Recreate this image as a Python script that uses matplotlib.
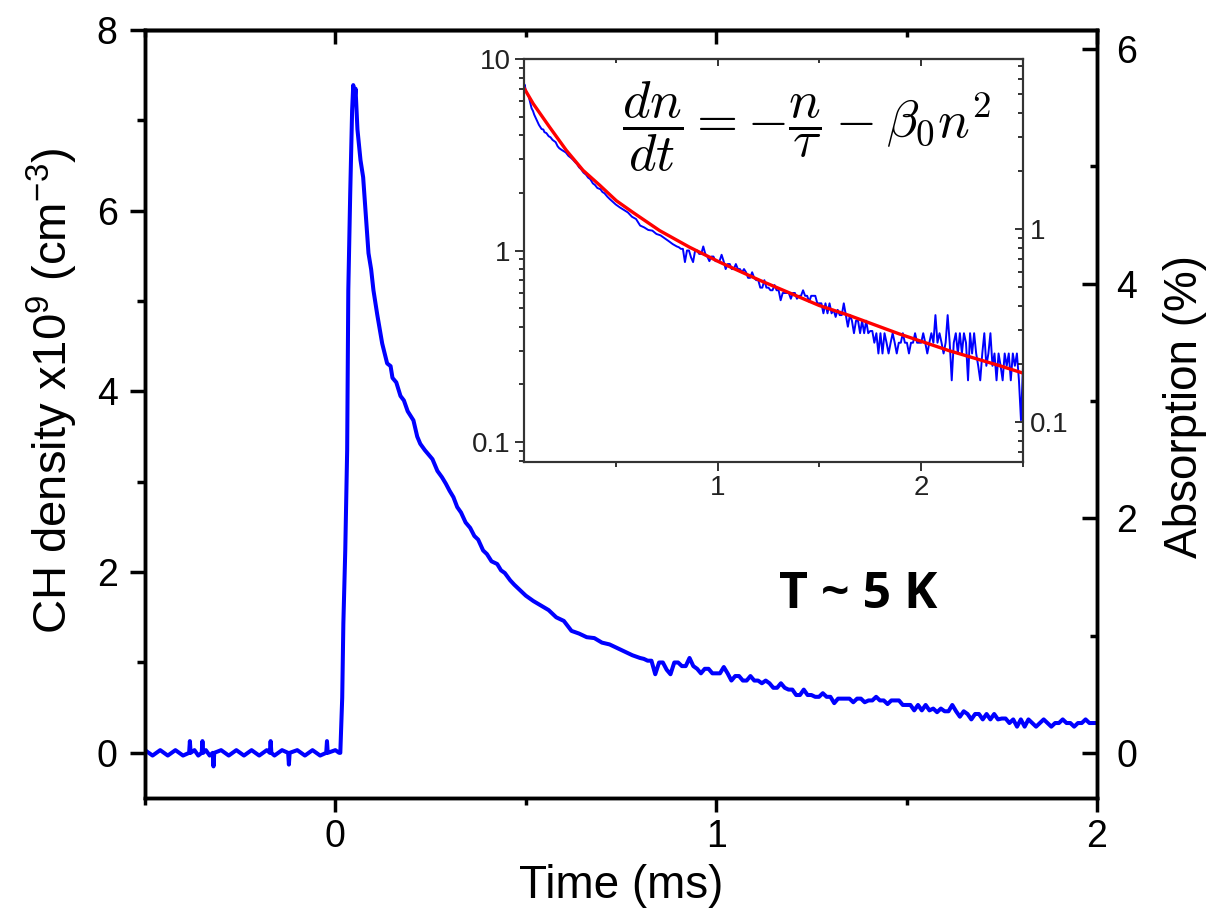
import numpy as np
import matplotlib.pyplot as plt
from matplotlib.ticker import MultipleLocator, LogLocator, NullFormatter, FixedLocator

plt.rcParams['font.family'] = ['Liberation Sans', 'DejaVu Sans']

# CH density trace (x1e9 cm^-3) vs time (ms)
t_base = [-0.50, -0.48, -0.46, -0.44, -0.42, -0.40, -0.384, -0.382, -0.380, -0.37, -0.36,
          -0.351, -0.349, -0.347, -0.34, -0.33, -0.322, -0.320, -0.318, -0.30, -0.28, -0.26,
          -0.24, -0.22, -0.20, -0.18, -0.172, -0.170, -0.168, -0.16, -0.14, -0.124, -0.122,
          -0.120, -0.10, -0.08, -0.06, -0.04, -0.024, -0.022, -0.020, 0.0, 0.010]
n_base = [0.03, -0.03, 0.03, -0.03, 0.03, -0.03, 0.0, 0.13, 0.0, 0.03, -0.03,
          0.0, 0.13, 0.0, 0.03, -0.03, 0.0, -0.15, 0.0, 0.03, -0.03, 0.03,
          -0.03, 0.03, -0.03, 0.03, 0.0, 0.13, 0.0, -0.03, 0.03, 0.0, -0.13,
          0.0, 0.03, -0.03, 0.03, -0.03, 0.0, 0.13, 0.0, 0.03, 0.0]

t_rise = [0.013, 0.018, 0.021, 0.026, 0.031, 0.034, 0.039, 0.044, 0.047]
n_rise = [0.0, 0.61, 1.43, 2.24, 3.35, 5.12, 6.19, 7.11, 7.39]

t_decay = [0.050, 0.053, 0.058, 0.066, 0.073, 0.080, 0.087, 0.094, 0.100, 0.110, 0.123,
           0.136, 0.145, 0.150, 0.160, 0.171, 0.180, 0.190, 0.205, 0.215, 0.223, 0.235,
           0.245, 0.255, 0.268, 0.280, 0.290, 0.300, 0.310, 0.320, 0.330, 0.342, 0.354,
           0.365, 0.375, 0.388, 0.398, 0.410, 0.425, 0.435, 0.445, 0.459, 0.470, 0.480, 0.490,
           0.50, 0.52, 0.54, 0.56, 0.58, 0.60, 0.62, 0.64, 0.66, 0.68, 0.70, 0.72, 0.74,
           0.76, 0.78]
n_decay = [7.20, 7.35, 6.90, 6.56, 6.37, 5.95, 5.53, 5.35, 5.12, 4.85, 4.53,
           4.31, 4.28, 4.15, 4.10, 3.95, 3.90, 3.78, 3.68, 3.50, 3.42, 3.35,
           3.30, 3.25, 3.12, 3.05, 2.98, 2.90, 2.83, 2.72, 2.66, 2.55, 2.49,
           2.40, 2.36, 2.24, 2.20, 2.12, 2.09, 2.02, 1.99, 1.91, 1.86, 1.82, 1.78,
           1.74, 1.68, 1.63, 1.58, 1.50, 1.46, 1.35, 1.32, 1.28, 1.27, 1.22, 1.20, 1.16,
           1.12, 1.08]

t_tail = [0.80, 0.81, 0.82, 0.83, 0.84, 0.85, 0.86, 0.87, 0.88, 0.89,
          0.90, 0.91, 0.92, 0.93, 0.94, 0.95, 0.96, 0.97, 0.98, 0.99,
          1.00, 1.01, 1.02, 1.03, 1.04, 1.05, 1.06, 1.07, 1.08, 1.09,
          1.10, 1.11, 1.12, 1.13, 1.14, 1.15, 1.16, 1.17, 1.18, 1.19,
          1.20, 1.21, 1.22, 1.23, 1.24, 1.25, 1.26, 1.27, 1.28, 1.29,
          1.30, 1.31, 1.32, 1.33, 1.34, 1.35, 1.36, 1.37, 1.38, 1.39,
          1.40, 1.41, 1.42, 1.43, 1.44, 1.45, 1.46, 1.47, 1.48, 1.49,
          1.50, 1.51, 1.52, 1.53, 1.54, 1.55, 1.56, 1.57, 1.58, 1.59,
          1.60, 1.61, 1.62, 1.63, 1.64, 1.65, 1.66, 1.67, 1.68, 1.69,
          1.70, 1.71, 1.72, 1.73, 1.74, 1.75, 1.76, 1.77, 1.78, 1.79,
          1.80, 1.81, 1.82, 1.83, 1.84, 1.85, 1.86, 1.87, 1.88, 1.89,
          1.90, 1.91, 1.92, 1.93, 1.94, 1.95, 1.96, 1.97, 1.98, 1.99,
          2.00, 2.01, 2.02, 2.03, 2.04, 2.05, 2.06, 2.07, 2.08, 2.09,
          2.10, 2.11, 2.12, 2.13, 2.14, 2.15, 2.16, 2.17, 2.18, 2.19,
          2.20, 2.21, 2.22, 2.23, 2.24, 2.25, 2.26, 2.27, 2.28, 2.29,
          2.30, 2.31, 2.32, 2.33, 2.34, 2.35, 2.36, 2.37, 2.38, 2.39,
          2.40, 2.41, 2.42, 2.43, 2.44, 2.45, 2.46, 2.47, 2.48, 2.49, 2.50]
n_tail = [1.05, 1.04, 1.02, 1.02, 0.87, 1.00, 1.00, 0.92, 0.87, 1.00,
          1.00, 0.96, 0.96, 1.05, 0.96, 0.93, 0.88, 0.93, 0.93, 0.88,
          0.88, 0.88, 0.95, 0.88, 0.80, 0.85, 0.85, 0.80, 0.80, 0.85,
          0.80, 0.80, 0.77, 0.80, 0.77, 0.72, 0.72, 0.77, 0.72, 0.70,
          0.70, 0.64, 0.64, 0.70, 0.64, 0.64, 0.62, 0.62, 0.66, 0.62,
          0.62, 0.55, 0.60, 0.60, 0.60, 0.60, 0.56, 0.60, 0.60, 0.56,
          0.58, 0.58, 0.62, 0.58, 0.58, 0.54, 0.58, 0.58, 0.58, 0.53,
          0.53, 0.53, 0.47, 0.53, 0.47, 0.53, 0.47, 0.49, 0.45, 0.49,
          0.46, 0.46, 0.53, 0.46, 0.40, 0.46, 0.43, 0.37, 0.43, 0.43,
          0.37, 0.43, 0.37, 0.43, 0.37, 0.38, 0.38, 0.33, 0.37, 0.29,
          0.37, 0.29, 0.37, 0.33, 0.29, 0.33, 0.37, 0.33, 0.29, 0.33,
          0.33, 0.37, 0.33, 0.33, 0.29, 0.33, 0.33, 0.37, 0.33, 0.33,
          0.33, 0.37, 0.33, 0.29, 0.33, 0.37, 0.33, 0.46, 0.33, 0.37,
          0.33, 0.29, 0.33, 0.46, 0.33, 0.21, 0.33, 0.37, 0.29, 0.37,
          0.29, 0.37, 0.33, 0.21, 0.37, 0.29, 0.37, 0.29, 0.25, 0.21,
          0.29, 0.37, 0.25, 0.29, 0.37, 0.25, 0.29, 0.21, 0.29, 0.25,
          0.21, 0.29, 0.25, 0.29, 0.21, 0.29, 0.25, 0.29, 0.21, 0.13, 0.25]

# fit to dn/dt = -n/tau - beta0 n^2 (red line in inset)
t_fit = [0.049, 0.095, 0.176, 0.258, 0.340, 0.422, 0.503, 0.585, 0.716, 0.863, 1.01,
         1.206, 1.50, 1.647, 1.892, 2.137, 2.382, 2.50]
n_fit = [7.08, 5.84, 4.40, 3.33, 2.62, 2.19, 1.82, 1.58, 1.27, 1.04, 0.87,
         0.70, 0.516, 0.458, 0.367, 0.30, 0.251, 0.229]

absorption_per_density = 6.0 / 7.79   # % absorption per 1e9 cm^-3

t_ms = np.array(t_base + t_rise + t_decay + t_tail)
n_ch = np.array(n_base + n_rise + n_decay + n_tail)

fig = plt.figure(figsize=(12.17, 9.23), dpi=100)
ax = fig.add_axes([0.1191, 0.1354, 0.7823, 0.8321])
ax.plot(t_ms, n_ch, color='#0000ff', lw=2.9)
ax.set_xlim(-0.5, 2)
ax.set_ylim(-0.5, 8)
ax.xaxis.set_major_locator(MultipleLocator(1))
ax.xaxis.set_minor_locator(MultipleLocator(0.5))
ax.yaxis.set_major_locator(MultipleLocator(2))
ax.yaxis.set_minor_locator(MultipleLocator(1))
ax.tick_params(which='both', direction='out', width=2.5, labelsize=27, right=False, top=False)
ax.tick_params(axis='y', which='major', length=11, pad=8.6)
ax.tick_params(axis='y', which='minor', length=6)
ax.tick_params(axis='x', which='major', length=10, pad=5)
ax.tick_params(axis='x', which='minor', length=5)
for s in ax.spines.values():
    s.set_linewidth(2.5)
ax.set_xlabel('Time (ms)', fontsize=33)
ax.xaxis.set_label_coords(0.5, -0.086)
ax.set_ylabel(r'CH density x10$\mathregular{^9}$ (cm$\mathregular{^{-3}}$)', fontsize=34)
ax.yaxis.set_label_coords(-0.068, 0.53)

top = ax.secondary_xaxis('top')
top.xaxis.set_major_locator(MultipleLocator(1))
top.xaxis.set_minor_locator(MultipleLocator(0.5))
top.tick_params(which='both', direction='in', width=2.5, labeltop=False)
top.tick_params(which='major', length=10)
top.tick_params(which='minor', length=5)
top.spines['top'].set_linewidth(2.5)

ax2 = ax.twinx()
ax2.set_ylim(-0.5 * absorption_per_density, 8 * absorption_per_density)
ax2.yaxis.set_major_locator(MultipleLocator(2))
ax2.yaxis.set_minor_locator(MultipleLocator(1))
ax2.tick_params(which='both', direction='in', width=2.5, labelsize=27, pad=14)
ax2.tick_params(which='major', length=11)
ax2.tick_params(which='minor', length=5)
for s in ax2.spines.values():
    s.set_linewidth(2.5)
ax2.set_ylabel('Absorption (%)', fontsize=33)
ax2.yaxis.set_label_coords(1.069, 0.51)

ax.text(1.373, 1.607, 'T ~ 5 K', family=['Open Sans', 'DejaVu Sans'], fontweight='bold',
        fontsize=36, ha='center', va='baseline')

# inset: same trace on log scale with fit
ins = fig.add_axes([0.4306, 0.4995, 0.41, 0.4366])
sel = t_ms >= 0.047
ins.plot(t_ms[sel], n_ch[sel], color='#0000ff', lw=1.4)
ins.plot(t_fit, n_fit, color='#ff0000', lw=2.4)
ins.set_yscale('log')
ins.set_xlim(0.05, 2.5)
ins.set_ylim(0.0787, 10)
ins.xaxis.set_major_locator(FixedLocator([1, 2]))
ins.xaxis.set_minor_locator(FixedLocator([0.5, 1.5, 2.5]))
ins.yaxis.set_minor_locator(LogLocator(base=10, subs=np.arange(2, 10), numticks=10))
ins.yaxis.set_minor_formatter(NullFormatter())
ins.set_yticks([0.1, 1, 10], ['0.1', '1', '10'])
ins.tick_params(which='both', direction='out', width=1.3, labelsize=20, colors='#222222',
                right=False, top=False, pad=3)
ins.tick_params(which='major', length=6.5)
ins.tick_params(which='minor', length=3.5)
for s in ins.spines.values():
    s.set_linewidth(1.5)
    s.set_color('#333333')

ins_top = ins.secondary_xaxis('top')
ins_top.xaxis.set_major_locator(FixedLocator([1, 2]))
ins_top.xaxis.set_minor_locator(FixedLocator([0.5, 1.5]))
ins_top.tick_params(which='both', direction='in', width=1.3, labeltop=False, colors='#222222')
ins_top.tick_params(which='major', length=5)
ins_top.tick_params(which='minor', length=3)
ins_top.spines['top'].set_linewidth(1.5)
ins_top.spines['top'].set_color('#333333')

ins2 = ins.twinx()
ins2.set_yscale('log')
ins2.set_ylim(0.062, 7.6)
ins2.yaxis.set_minor_locator(LogLocator(base=10, subs=np.arange(2, 10), numticks=10))
ins2.yaxis.set_minor_formatter(NullFormatter())
ins2.set_yticks([0.1, 1], ['0.1', '1'])
ins2.tick_params(which='both', direction='in', width=1.3, labelsize=20, colors='#222222', pad=5)
ins2.tick_params(which='major', length=6)
ins2.tick_params(which='minor', length=3.5)
for s in ins2.spines.values():
    s.set_linewidth(1.5)
    s.set_color('#333333')

ins.text(0.196, 0.831, r'$\dfrac{dn}{dt} = -\dfrac{n}{\tau} - \beta_0 n^2$', fontsize=38,
         math_fontfamily='cm', transform=ins.transAxes, va='center', ha='left')

fig.savefig('out.png', dpi=100)
